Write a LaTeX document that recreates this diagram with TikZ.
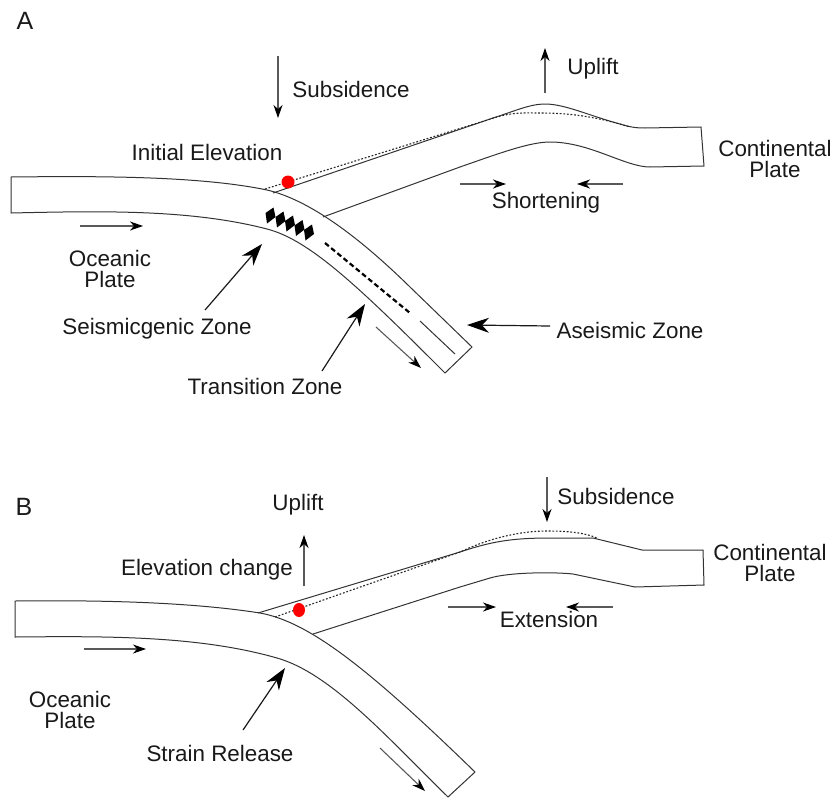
\documentclass[tikz,border=0pt]{standalone}
\usepackage{fontspec}
\setmainfont{Liberation Sans}
\usetikzlibrary{arrows.meta,shapes.geometric}

\tikzset{
plate/.style={line width=1pt,black!80},
surface/.style={line width=1.1pt,dash pattern=on 1.8pt off 1.8pt,black!85},
label/.style={font=\fontsize{22.4}{24}\selectfont,inner sep=0pt,align=center,black!90},
motion/.style={line width=1.1pt,black!65,-{Stealth[length=13pt,width=9pt,inset=4pt,black]}},
pointer/.style={line width=1.2pt,black!90,-{Stealth[length=22pt,width=15pt,inset=7pt,black]}},
slipdot/.style={fill=red,draw=none}
}

\begin{document}
\begin{tikzpicture}[x=1pt,y=-1pt]
\useasboundingbox (0,0) rectangle (834,798);

% upper panel, oceanic plate
\draw [plate] (472,347) -- (410,287) .. controls (360,238) and (310,200) .. (267,190)
  .. controls (200,176) and (100,176) .. (11,177) -- (11,213)
  .. controls (100,211) and (190,209) .. (267,229)
  .. controls (310,240) and (360,288) .. (445,373) -- cycle;

% upper panel, continental plate
\draw [plate] (273,193) -- (493,118) .. controls (515,111) and (530,104) .. (545,104)
  .. controls (565,104) and (590,116) .. (620,124)
  .. controls (630,127) and (635,128) .. (645,128) -- (701,127) -- (704,166) -- (650,167)
  .. controls (625,167) and (590,142) .. (550,142)
  .. controls (530,142) and (500,153) .. (460,167) -- (323,217);
\draw [surface] (265,189) -- (497,117) .. controls (515,112) and (525,113) .. (540,113)
  .. controls (575,113) and (600,118) .. (630,127);

\node [slipdot,circle,minimum size=13pt,inner sep=0pt] (dotA) at (288,182) {};

% locked patches and creep along the interface
\foreach \x/\y in {270.5/216,280.5/220,290/224,299.5/228.5,309/233}
  \fill ([shift={(-5,-3)}]\x,\y) -- ([shift={(3,-8.5)}]\x,\y) -- ([shift={(5,1)}]\x,\y) -- ([shift={(-3.5,7.5)}]\x,\y) -- cycle;
\draw [line width=2.2pt,dash pattern=on 5pt off 3pt] (325,243) -- (410,313);
\draw [plate] (420,321) -- (455,354);

\node [label,font=\fontsize{25}{27}\selectfont] (panelA) at (25,21) {A};
\node [label] (subsidenceA) at (351,89) {Subsidence};
\node [label] (upliftA) at (593,69) {Uplift};
\node [label] (elevationA) at (207,152) {Initial Elevation};
\node [label] (continentA) at (775,159) {Continental\\[-3pt]Plate};
\node [label] (shortening) at (546,203) {Shortening};
\node [label] (oceanA) at (110,269) {Oceanic\\[-3pt]Plate};
\node [label] (seismic) at (157,329) {Seismicgenic Zone};
\node [label] (transition) at (265,386) {Transition Zone};
\node [label] (aseismic) at (630,330) {Aseismic Zone};

\coordinate (subsidenceAtail) at (278,56);
\coordinate (subsidenceAtip) at (278,118);
\coordinate (upliftAtail) at (545,93);
\coordinate (upliftAtip) at (545,48);
\coordinate (shortenLtail) at (460,184);
\coordinate (shortenLtip) at (506,184);
\coordinate (shortenRtail) at (623,184);
\coordinate (shortenRtip) at (577,184);
\coordinate (oceanAtail) at (80,226);
\coordinate (oceanAtip) at (143,226);
\coordinate (sinkAtail) at (376,327);
\coordinate (sinkAtip) at (421,368);
\coordinate (seismictail) at (205,310);
\coordinate (seismictip) at (262,244);
\coordinate (transitiontail) at (322,371);
\coordinate (transitiontip) at (365,304);
\coordinate (aseismictail) at (550,326);
\coordinate (aseismictip) at (467,325);

\draw [motion] (subsidenceAtail) -- (subsidenceAtip);
\draw [motion] (upliftAtail) -- (upliftAtip);
\draw [motion] (shortenLtail) -- (shortenLtip);
\draw [motion] (shortenRtail) -- (shortenRtip);
\draw [motion] (oceanAtail) -- (oceanAtip);
\draw [motion] (sinkAtail) -- (sinkAtip);
\draw [pointer] (seismictail) -- (seismictip);
\draw [pointer] (transitiontail) -- (transitiontip);
\draw [pointer] (aseismictail) -- (aseismictip);

% lower panel, oceanic plate
\draw [plate] (475,772) .. controls (370,670) and (310,622) .. (260,613)
  .. controls (190,602) and (100,600) .. (15,601) -- (15,637)
  .. controls (110,636) and (200,636) .. (277,658)
  .. controls (330,673) and (385,735) .. (448,797) -- cycle;

% lower panel, continental plate
\draw [plate] (258,613) -- (460,552) .. controls (490,542) and (510,538) .. (550,538)
  -- (593,538) -- (642,550) -- (703,550) -- (704,585) -- (635,587) -- (573,574)
  .. controls (555,572) and (510,572) .. (490,578) -- (460,587) -- (313,634);
\draw [surface] (275,617) -- (460,552) .. controls (490,538) and (520,531) .. (547,531)
  .. controls (570,531) and (585,533) .. (597,538);

\node [slipdot,ellipse,minimum width=12pt,minimum height=14pt,inner sep=0pt] (dotB) at (299,610) {};

\node [label,font=\fontsize{25}{27}\selectfont] (panelB) at (24,507) {B};
\node [label] (upliftB) at (298,505) {Uplift};
\node [label] (elevationB) at (207,570) {Elevation change};
\node [label] (subsidenceB) at (616,496) {Subsidence};
\node [label] (extension) at (549,619) {Extension};
\node [label] (continentB) at (770,563) {Continental\\[-3pt]Plate};
\node [label] (oceanB) at (70,710) {Oceanic\\[-3pt]Plate};
\node [label] (strain) at (220,753) {Strain Release};

\coordinate (upliftBtail) at (304,586);
\coordinate (upliftBtip) at (304,535);
\coordinate (subsidenceBtail) at (547,477);
\coordinate (subsidenceBtip) at (547,522);
\coordinate (extendLtail) at (448,607);
\coordinate (extendLtip) at (496,607);
\coordinate (extendRtail) at (613,607);
\coordinate (extendRtip) at (566,607);
\coordinate (oceanBtail) at (84,649);
\coordinate (oceanBtip) at (146,649);
\coordinate (sinkBtail) at (380,748);
\coordinate (sinkBtip) at (425,791);
\coordinate (straintail) at (243,730);
\coordinate (straintip) at (285,668);

\draw [motion] (upliftBtail) -- (upliftBtip);
\draw [motion] (subsidenceBtail) -- (subsidenceBtip);
\draw [motion] (extendLtail) -- (extendLtip);
\draw [motion] (extendRtail) -- (extendRtip);
\draw [motion] (oceanBtail) -- (oceanBtip);
\draw [motion] (sinkBtail) -- (sinkBtip);
\draw [pointer] (straintail) -- (straintip);
\end{tikzpicture}
\end{document}
